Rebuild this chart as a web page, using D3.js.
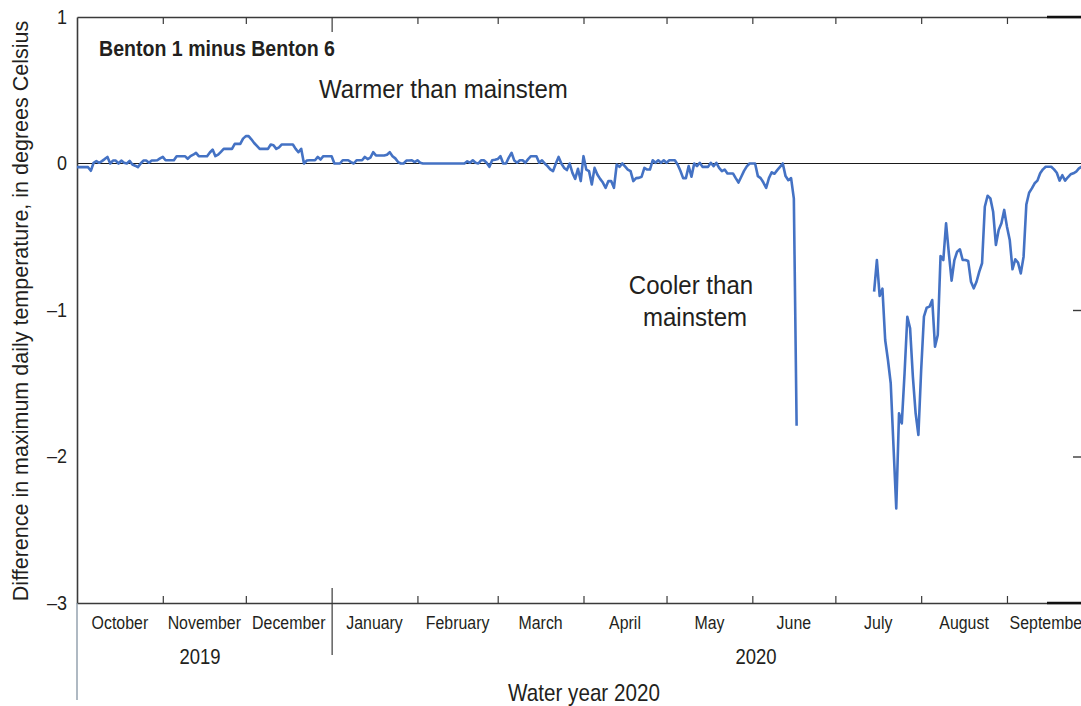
<!DOCTYPE html>
<html>
<head>
<meta charset="utf-8">
<script src="https://cdn.jsdelivr.net/npm/d3@7"></script>
<style>
  html, body { margin: 0; padding: 0; background: #fff; overflow: hidden; }
  svg { display: block; }
  text { font-family: 'Liberation Sans', Arial, 'DejaVu Sans', sans-serif; fill: #231f20; }
</style>
</head>
<body>
<svg id="chart" width="1081" height="706"></svg>
<script>
// ---- DATA ----
const startDate = "2019-10-01";   // day index 0 (water year 2020 starts)
const endDate = "2020-10-01";
// Daily difference in maximum daily temperature (Benton 1 minus Benton 6), deg C; null = no data
const dailyDiff = [
  -0.025,-0.025,-0.025,-0.025,-0.025,-0.05,0.005,0.016,0.005,0.016,
  0.03,0.045,0.0,0.02,0.02,0.0,0.02,0.005,0.0,0.018,
  -0.007,-0.015,-0.025,0.0,0.02,0.02,0.005,0.02,0.02,0.022,
  0.035,0.045,0.022,0.022,0.022,0.022,0.05,0.05,0.05,0.05,
  0.032,0.05,0.06,0.073,0.05,0.05,0.05,0.05,0.075,0.095,
  0.05,0.06,0.08,0.1,0.1,0.1,0.1,0.134,0.134,0.134,
  0.17,0.187,0.187,0.165,0.14,0.12,0.1,0.1,0.1,0.1,
  0.13,0.125,0.1,0.11,0.13,0.13,0.13,0.13,0.13,0.1,
  0.077,0.1,0.0,0.02,0.022,0.022,0.022,0.045,0.027,0.05,
  0.05,0.05,0.05,0.0,0.0,0.0,0.022,0.022,0.022,0.01,
  0.0,0.022,0.022,0.022,0.045,0.03,0.04,0.077,0.055,0.055,
  0.055,0.055,0.06,0.077,0.05,0.035,0.01,0.0,0.0,0.02,
  0.02,0.022,0.01,0.022,0.005,0.0,0.0,0.0,0.0,0.0,
  0.0,0.0,0.0,0.0,0.0,0.0,0.0,0.0,0.0,0.0,
  0.0,0.015,0.005,0.022,0.005,0.0,0.022,0.022,0.005,-0.023,
  0.022,0.025,0.03,0.05,0.0,0.0,0.04,0.073,0.02,0.005,
  0.022,0.022,0.005,0.03,0.05,0.05,0.05,0.005,0.022,0.0,
  -0.018,-0.04,-0.052,0.0,0.045,0.0,-0.03,-0.045,0.0,-0.064,
  -0.105,-0.036,-0.12,0.05,-0.041,-0.052,-0.143,-0.03,-0.075,-0.105,
  -0.13,-0.166,-0.12,-0.12,-0.166,-0.007,-0.023,0.0,-0.02,-0.041,
  -0.052,-0.12,-0.1,-0.098,-0.09,-0.03,-0.041,-0.041,0.022,0.005,
  0.022,0.005,0.022,0.005,0.022,0.022,0.022,-0.007,-0.05,-0.1,
  -0.1,-0.018,-0.09,0.0,-0.018,0.005,-0.023,-0.023,-0.023,0.005,
  -0.018,0.005,-0.03,-0.052,-0.041,-0.068,-0.068,-0.068,-0.1,-0.13,
  -0.09,-0.05,-0.02,0.0,0.0,0.0,-0.086,-0.1,-0.13,-0.166,
  -0.1,-0.06,-0.07,-0.045,-0.023,0.0,-0.086,-0.114,-0.1,-0.24,
  -1.79,null,null,null,null,null,null,null,null,null,
  null,null,null,null,null,null,null,null,null,null,
  null,null,null,null,null,null,null,null,-0.875,-0.659,
  -0.904,-0.854,-1.205,-1.341,-1.5,-1.93,-2.354,-1.705,-1.774,-1.432,
  -1.046,-1.125,-1.455,-1.705,-1.853,-1.41,-1.046,-0.984,-0.977,-0.932,
  -1.25,-1.171,-0.631,-0.659,-0.408,-0.613,-0.8,-0.659,-0.602,-0.586,
  -0.659,-0.659,-0.666,-0.807,-0.852,-0.807,-0.738,-0.681,-0.295,-0.22,
  -0.238,-0.329,-0.556,-0.454,-0.408,-0.317,-0.431,-0.522,-0.722,-0.654,
  -0.677,-0.75,-0.636,-0.28,-0.2,-0.17,-0.135,-0.117,-0.067,-0.04,
  -0.022,-0.022,-0.022,-0.04,-0.063,-0.117,-0.08,-0.117,-0.094,-0.074,
  -0.067,-0.056,-0.033,-0.022,-0.03,-0.03
];
const monthLabels = ["October","November","December","January","February","March","April","May","June","July","August","September"];
const yearLabels = ["2019", "2020"];
const yTicks = [1, 0, -1, -2, -3];
const titleText = "Benton 1 minus Benton 6";
const yAxisTitle = "Difference in maximum daily temperature, in degrees Celsius";
const xAxisTitle = "Water year 2020";
const warmerText = "Warmer than mainstem";
const coolerLines = ["Cooler than", "mainstem"];

// ---- LAYOUT ----
const svg = d3.select("#chart");
const pLeft = 77, pRight = 1090, pTop = 17, pBottom = 603;
const parse = d3.utcParse("%Y-%m-%d");
const x = d3.scaleUtc().domain([parse(startDate), parse(endDate)]).range([pLeft, pRight]);
const y = d3.scaleLinear().domain([-3, 1]).range([pBottom, pTop]);
const axisColor = "#3a3a3a";
const lineColor = "#4472c4";

// condensed text helper (horizontal compression emulates a condensed face)
function label(parent, tx, ty, str, size, k, anchor, weight) {
  return parent.append("text")
    .attr("transform", `translate(${tx},${ty}) scale(${k},1)`)
    .attr("text-anchor", anchor || "start")
    .style("font-size", size + "px")
    .style("font-weight", weight || "normal")
    .text(str);
}

const series = dailyDiff.map((v, i) => ({date: d3.utcDay.offset(parse(startDate), i), value: v}));
const monthStarts = d3.utcMonth.range(parse(startDate), parse(endDate));

// zero line
svg.append("line").attr("x1", pLeft).attr("x2", 1081).attr("y1", y(0)).attr("y2", y(0))
  .attr("stroke", "#1a1a1a").attr("stroke-width", 1.2);

// frame: top and bottom axes (month ticks)
const ticksIn = monthStarts.slice(1);
const gTop = svg.append("g").attr("transform", `translate(0,${pTop})`)
  .call(d3.axisTop(x).tickValues(ticksIn).tickSize(-7).tickFormat("").tickSizeOuter(0));
const gBot = svg.append("g").attr("transform", `translate(0,${pBottom})`)
  .call(d3.axisBottom(x).tickValues(ticksIn).tickSize(-7).tickFormat("").tickSizeOuter(0));
[gTop, gBot].forEach(g => {
  g.select(".domain").attr("stroke", axisColor).attr("stroke-width", 1.6);
  g.selectAll(".tick line").attr("stroke", axisColor).attr("stroke-width", 1.2);
});
// longer ticks at calendar-year boundary
const jan1 = parse("2020-01-01");
gTop.selectAll(".tick").filter(d => +d === +jan1).select("line").attr("y2", 15);
gBot.selectAll(".tick").filter(d => +d === +jan1).select("line").attr("y1", -15).attr("y2", 52);
// darker segment at right end of the frame
[pTop, pBottom].forEach(yy => svg.append("line").attr("x1", 1047).attr("x2", 1081).attr("y1", yy).attr("y2", yy)
  .attr("stroke", "#111").attr("stroke-width", 2.6));

// left axis
const gLeft = svg.append("g").attr("transform", `translate(${pLeft},0)`)
  .call(d3.axisLeft(y).tickValues(yTicks).tickSize(0).tickPadding(9).tickSizeOuter(0)
    .tickFormat(d => d < 0 ? "\u2013" + Math.abs(d) : String(d)));
gLeft.select(".domain").attr("stroke", axisColor).attr("stroke-width", 1.6);
gLeft.selectAll(".tick text")
  .style("font-size", "20px").style("font-family", "'Liberation Sans', Arial, sans-serif")
  .attr("fill", "#231f20").attr("x", -10 / 0.9).attr("transform", "scale(0.9,1)");
// left axis extension below plot
svg.append("line").attr("x1", pLeft).attr("x2", pLeft).attr("y1", pBottom).attr("y2", 700)
  .attr("stroke", "#7a8a9a").attr("stroke-width", 1.2);

// right inward ticks
const gRight = svg.append("g").attr("transform", `translate(${pRight},0)`)
  .call(d3.axisRight(y).tickValues([-1, -2]).tickSize(-17).tickFormat(""));
gRight.select(".domain").remove();
gRight.selectAll(".tick line").attr("stroke", axisColor).attr("stroke-width", 1.4);

// month labels
const gMonths = svg.append("g");
monthStarts.forEach((d, i) => {
  const cx = (x(d) + x(d3.utcMonth.offset(d, 1))) / 2;
  label(gMonths, cx, 629, monthLabels[i], 18.5, 0.86, "middle");
});

// year labels (centred under their spans)
label(svg, 200, 664, yearLabels[0], 22, 0.84, "middle");
label(svg, 756, 664, yearLabels[1], 22, 0.84, "middle");

// x title
label(svg, 584, 701, xAxisTitle, 24, 0.86, "middle");

// y title
svg.append("text").attr("transform", `translate(28,${(pTop + pBottom) / 2 + 1}) rotate(-90)`)
  .attr("text-anchor", "middle").style("font-size", "21.5px").text(yAxisTitle);

// data line
const line = d3.line().defined(d => d.value !== null)
  .x(d => x(d.date)).y(d => y(d.value));
svg.append("path").datum(series).attr("d", line)
  .attr("fill", "none").attr("stroke", lineColor).attr("stroke-width", 2.6)
  .attr("stroke-linejoin", "round");

// annotations
label(svg, 99, 56, titleText, 22, 0.89, "start", "bold");
label(svg, 319, 98, warmerText, 26, 0.925, "start");
label(svg, 691, 294, coolerLines[0], 26, 0.925, "middle");
label(svg, 695, 326, coolerLines[1], 26, 0.925, "middle");
</script>
</body>
</html>
